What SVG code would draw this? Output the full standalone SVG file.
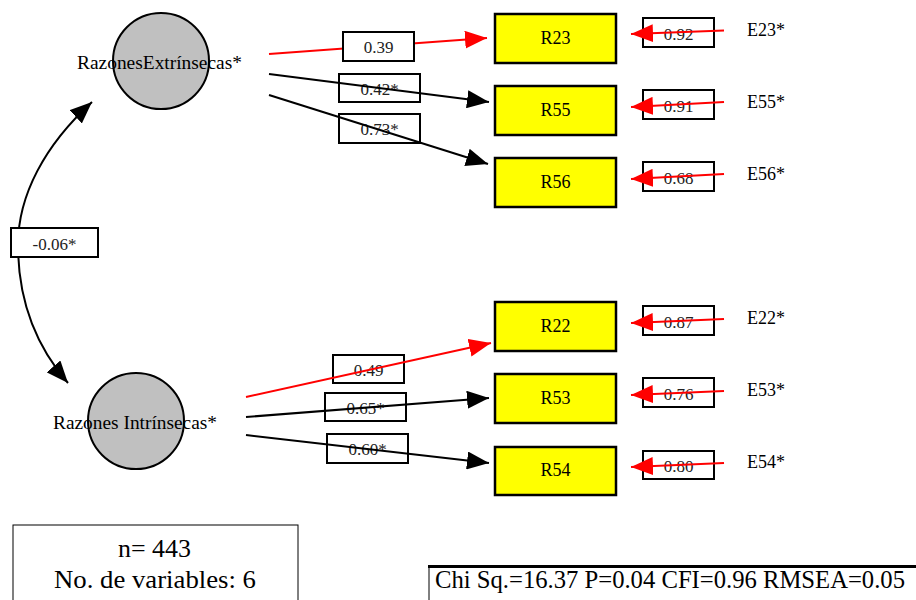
<svg xmlns="http://www.w3.org/2000/svg" width="916" height="600" viewBox="0 0 916 600" font-family="'Liberation Serif', 'Times New Roman', serif">
<style>
text{font-family:'Liberation Serif','Times New Roman',serif;fill:#000}
.lat{fill:#c0c0c0;stroke:#000;stroke-width:2}
.obs{fill:#ffff00;stroke:#000;stroke-width:2.5}
.lb{fill:#fff;stroke:#000;stroke-width:2}
.k{stroke:#000;stroke-width:2;fill:none}
.r{stroke:#ff0000;stroke-width:2;fill:none}
.t18{font-size:18px}
.num{font-size:17px;fill:#222}
</style>
<defs>
<marker id="ak" viewBox="0 0 22 18" refX="22" refY="9" markerWidth="22" markerHeight="18" markerUnits="userSpaceOnUse" orient="auto-start-reverse"><path d="M0,0 L22,9 L0,18 z" fill="#000"/></marker>
<marker id="ar" viewBox="0 0 22 18" refX="22" refY="9" markerWidth="22" markerHeight="18" markerUnits="userSpaceOnUse" orient="auto-start-reverse"><path d="M0,0 L22,9 L0,18 z" fill="#ff0000"/></marker>
</defs>

<g id="F1">
<circle class="lat" cx="161" cy="61" r="48"/>
<text x="77" y="69" font-size="19" textLength="165" lengthAdjust="spacingAndGlyphs">RazonesExtrínsecas*</text>
</g>
<g id="F2">
<circle class="lat" cx="136" cy="421" r="48"/>
<text x="53" y="429" font-size="19" textLength="164" lengthAdjust="spacingAndGlyphs">Razones Intrínsecas*</text>
</g>

<g id="R23"><rect class="obs" x="495" y="14" width="121" height="49"/><text class="t18" x="555.5" y="44" text-anchor="middle">R23</text></g>
<g id="R55"><rect class="obs" x="495" y="86" width="121" height="49"/><text class="t18" x="555.5" y="116" text-anchor="middle">R55</text></g>
<g id="R56"><rect class="obs" x="495" y="158" width="121" height="49"/><text class="t18" x="555.5" y="188" text-anchor="middle">R56</text></g>
<g id="R22"><rect class="obs" x="495" y="302" width="121" height="49"/><text class="t18" x="555.5" y="332" text-anchor="middle">R22</text></g>
<g id="R53"><rect class="obs" x="495" y="374" width="121" height="49"/><text class="t18" x="555.5" y="404" text-anchor="middle">R53</text></g>
<g id="R54"><rect class="obs" x="495" y="447" width="121" height="48"/><text class="t18" x="555.5" y="476" text-anchor="middle">R54</text></g>

<g id="E23"><text class="t18" x="747" y="36">E23*</text></g>
<g id="E55"><text class="t18" x="747" y="108">E55*</text></g>
<g id="E56"><text class="t18" x="747" y="180">E56*</text></g>
<g id="E22"><text class="t18" x="747" y="324">E22*</text></g>
<g id="E53"><text class="t18" x="747" y="396">E53*</text></g>
<g id="E54"><text class="t18" x="747" y="468">E54*</text></g>

<g id="labels-under">
<rect class="lb" x="339" y="74" width="81" height="28"/><text class="num" x="379.5" y="95" text-anchor="middle">0.42*</text>
<rect class="lb" x="339" y="114" width="81" height="29"/><text class="num" x="379.5" y="135" text-anchor="middle">0.73*</text>
<rect class="lb" x="333" y="355" width="71" height="28"/><text class="num" x="368.5" y="376" text-anchor="middle">0.49</text>
<rect class="lb" x="325" y="393" width="81" height="28"/><text class="num" x="365.5" y="414" text-anchor="middle">0.65*</text>
<rect class="lb" x="327" y="434" width="81" height="29"/><text class="num" x="367.5" y="455" text-anchor="middle">0.60*</text>
<rect class="lb" x="643" y="18" width="71" height="29"/><text class="num" x="678.5" y="40" text-anchor="middle">0.92</text>
<rect class="lb" x="643" y="90" width="71" height="29"/><text class="num" x="678.5" y="112" text-anchor="middle">0.91</text>
<rect class="lb" x="643" y="162" width="71" height="29"/><text class="num" x="678.5" y="184" text-anchor="middle">0.68</text>
<rect class="lb" x="643" y="306" width="71" height="29"/><text class="num" x="678.5" y="328" text-anchor="middle">0.87</text>
<rect class="lb" x="643" y="378" width="71" height="29"/><text class="num" x="678.5" y="400" text-anchor="middle">0.76</text>
<rect class="lb" x="643" y="451" width="71" height="28"/><text class="num" x="678.5" y="472" text-anchor="middle">0.80</text>
</g>

<g id="connectors">
<line class="r" x1="269" y1="54" x2="487" y2="38" marker-end="url(#ar)"/>
<line class="k" x1="269" y1="74" x2="489" y2="102" marker-end="url(#ak)"/>
<line class="k" x1="269" y1="95" x2="488" y2="164" marker-end="url(#ak)"/>
<line class="r" x1="246" y1="397" x2="491" y2="343" marker-end="url(#ar)"/>
<line class="k" x1="246" y1="417" x2="489" y2="398" marker-end="url(#ak)"/>
<line class="k" x1="246" y1="435" x2="489" y2="463" marker-end="url(#ak)"/>
<line class="r" x1="724" y1="30.5" x2="631" y2="34" marker-end="url(#ar)"/>
<line class="r" x1="724" y1="102" x2="631" y2="107" marker-end="url(#ar)"/>
<line class="r" x1="724" y1="174" x2="631" y2="179" marker-end="url(#ar)"/>
<line class="r" x1="724" y1="319" x2="631" y2="323" marker-end="url(#ar)"/>
<line class="r" x1="724" y1="391" x2="631" y2="395" marker-end="url(#ar)"/>
<line class="r" x1="724" y1="463" x2="631" y2="467" marker-end="url(#ar)"/>
<path class="k" d="M92,102 C45,145 18,195 18,245 C18,300 35,345 68,383" marker-start="url(#ak)" marker-end="url(#ak)"/>
</g>

<g id="labels-over">
<rect class="lb" x="343" y="32" width="71" height="29"/><text class="num" x="378.5" y="53" text-anchor="middle">0.39</text>
<rect class="lb" x="11" y="228" width="87" height="29"/><text class="num" x="54.5" y="250" text-anchor="middle">-0.06*</text>
</g>

<g id="info">
<rect x="13" y="525" width="285" height="90" fill="#fff" stroke="#000" stroke-width="1"/>
<text x="154.5" y="557" font-size="26" text-anchor="middle" textLength="73" lengthAdjust="spacingAndGlyphs">n= 443</text>
<text x="155" y="588" font-size="25" text-anchor="middle" textLength="202" lengthAdjust="spacingAndGlyphs">No. de variables: 6</text>
</g>
<g id="fit">
<path d="M429,600 V567 H916" fill="none" stroke="#000" stroke-width="1"/>
<line x1="428" y1="566.5" x2="916" y2="566.5" stroke="#000" stroke-width="3"/>
<text x="435" y="588" font-size="25" textLength="470" lengthAdjust="spacingAndGlyphs">Chi Sq.=16.37 P=0.04 CFI=0.96 RMSEA=0.05</text>
</g>
</svg>
